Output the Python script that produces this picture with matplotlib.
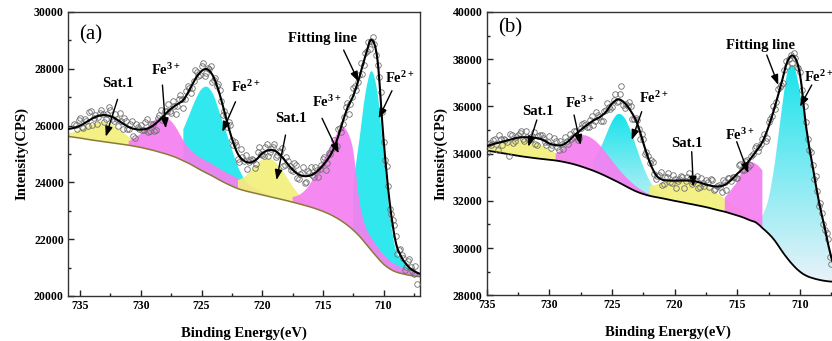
import numpy as np
import matplotlib
matplotlib.use("Agg")
import matplotlib.pyplot as plt
from matplotlib.path import Path
from matplotlib.patches import PathPatch
from matplotlib.ticker import MultipleLocator
from matplotlib.colors import to_rgb

plt.rcParams['font.family'] = ['Liberation Serif', 'DejaVu Serif']
plt.rcParams['font.weight'] = 'bold'
plt.rcParams['mathtext.fontset'] = 'custom'
plt.rcParams['mathtext.rm'] = 'Liberation Serif:bold'
plt.rcParams['mathtext.it'] = 'Liberation Serif:italic:bold'
plt.rcParams['mathtext.bf'] = 'Liberation Serif:bold'

STEP = 0.5  # eV spacing of the fitted curves

# ---------------- panel (a) ----------------
GRID_A_START = 736.0
BG_A = [25620, 25590, 25560, 25525, 25490, 25460, 25430, 25400, 25370, 25340,
        25310, 25270, 25230, 25180, 25130, 25070, 25010, 24940, 24860, 24760,
        24660, 24540, 24420, 24310, 24200, 24080, 23970, 23870, 23780, 23715,
        23660, 23610, 23560, 23510, 23460, 23410, 23360, 23305, 23250, 23190,
        23130, 23060, 22980, 22890, 22780, 22650, 22500, 22320, 22110, 21860,
        21600, 21350, 21120, 20960, 20850, 20790, 20740, 20705, 20680]
FIT_A = [25880, 25920, 26000, 26120, 26250, 26340, 26370, 26330, 26220, 26080,
         25950, 25880, 25860, 25890, 26000, 26180, 26400, 26600, 26750, 26900,
         27250, 27650, 27920, 27980, 27700, 27100, 26300, 25550, 25000, 24760,
         24700, 24800, 25020, 25130, 25120, 24960, 24700, 24450, 24280, 24220,
         24250, 24380, 24600, 24880, 25300, 25950, 26600, 27050, 27700, 28450,
         29020, 28300, 25500, 23300, 21900, 21350, 21050, 20880, 20780]
# peak heights above background (start energy, values every 0.5 eV)
SAT1_A_START, SAT1_A = 736.0, [102, 184, 298, 433, 565, 664, 700, 664, 565, 433, 298, 184, 102, 51, 23, 9]
FE2_1_A_START, FE2_1_A = 726.5, [1102, 1720, 2365, 2862, 3050, 2862, 2365, 1850, 1300, 780, 420, 200, 80, 30]
FE3_1_A_START, FE3_1_A = 731.0, [149, 288, 494, 752, 1015, 1215, 1290, 1215, 1000, 720, 520, 450,
                                 430, 420, 410, 400, 390, 380, 360, 320, 250, 170, 100, 50]
SAT2_A_START, SAT2_A = 722.0, [300, 465, 725, 1002, 1229, 1337, 1289, 1103, 838, 564, 337, 178, 84, 35, 13]
FE2_2_A_START, FE2_2_A = 712.5, [1660, 3370, 5255, 6318, 5794, 3990, 1950, 780, 480, 240, 160, 120]
FE3_2_A_START, FE3_2_A = 717.5, [180, 300, 520, 850, 1350, 1750, 2300, 2800, 3300, 3300, 2800, 1250,
                                 600, 450, 380, 330, 290, 250, 220, 190, 140, 100]
PTS_STEP = 0.25
PTS_A_START = 735.5
PTS_A = [26040, 25880, 26260, 25910, 26160, 26495, 26030, 26385, 26310, 26535,
         26110, 26410, 26550, 26165, 26230, 26440, 25890, 26155, 25890, 26145,
         25580, 25940, 26030, 25855, 26220, 25805, 26050, 25850, 26380, 26200,
         26510, 26770, 26430, 26705, 26700, 27065, 26620, 27225, 27330, 27330,
         27950, 27755, 28110, 27740, 28040, 28090, 27600, 27390, 27260, 26370,
         26390, 26135, 25480, 25405, 24820, 25160, 24760, 24480, 24800, 24790,
         24660, 25230, 24960, 25245, 24930, 25185, 25350, 24950, 25080, 24560,
         24890, 24595, 24410, 24625, 24120, 24330, 23990, 24385, 24550, 24205,
         24430, 24470, 24810, 24440, 25020, 25180, 25240, 25865, 25760, 26305,
         26780, 26745, 27320, 27245, 27770, 27825, 28570, 28935, 28980, 28860,
         28130, 27190, 25410, 24560, 23080, 22660, 22130, 21615, 21460, 20920,
         21250, 21005, 20760, 20420]
PTS_A2_START = 735.375
PTS_A2 = [26030, 26190, 25960, 26220, 25970, 26500, 26270, 26070, 26450, 26400,
          26220, 26660, 26240, 26420, 25985, 26175, 26280, 25890, 26050, 25630,
          26065, 25885, 25830, 26140, 25760, 26050, 25815, 26285, 26535, 26235,
          26500, 26530, 26850, 26410, 26930, 26950, 26930, 27400, 27160, 27580,
          27900, 27770, 28205, 27835, 27980, 27520, 27670, 27450, 26860, 26510,
          25940, 26030, 25320, 25300, 24720, 24880, 24975, 24705, 24835, 24495,
          25055, 25005, 24930, 25350, 25080, 25250, 24880, 25090, 25205, 24615,
          24760, 24430, 24670, 24170, 24305, 24545, 24010, 24330, 24250, 24530,
          24175, 24605, 24890, 24700, 24995, 25485, 25270, 25930, 26050, 26670,
          26410, 27010, 27380, 27520, 28220, 28120, 28640, 28700, 29135, 28485,
          27710, 26470, 24780, 23880, 22900, 22490, 21480, 21640, 21355, 21005,
          21310, 20890, 21045]

# ---------------- panel (b) ----------------
GRID_B_START = 735.0
BG_B = [34130, 34090, 34045, 34000, 33955, 33910, 33870, 33835, 33800, 33770,
        33740, 33710, 33665, 33610, 33545, 33465, 33375, 33280, 33170, 33050,
        32920, 32790, 32650, 32510, 32385, 32290, 32215, 32160, 32110, 32055,
        32000, 31950, 31895, 31845, 31790, 31735, 31670, 31600, 31540, 31460,
        31380, 31290, 31180, 31080, 30850, 30610, 30310, 29920, 29560, 29250,
        29000, 28830, 28730, 28660, 28610, 28580, 28565, 28555]
FIT_B = [34320, 34400, 34470, 34540, 34610, 34680, 34695, 34690, 34660, 34580,
         34430, 34360, 34360, 34520, 34780, 35000, 35210, 35400, 35540, 35760,
         36120, 36300, 36150, 35800, 35300, 34450, 33650, 33100, 32900, 32860,
         32860, 32860, 32860, 32840, 32780, 32690, 32630, 32610, 32680, 32880,
         33150, 33400, 33750, 34100, 34500, 35150, 36000, 36950, 37900, 38130,
         37350, 35100, 33500, 32000, 30800, 29600, 28950, 28700]
SAT1_B_START, SAT1_B = 735.0, [144, 229, 336, 457, 574, 667, 715, 710, 651, 552, 433, 313, 210, 130, 74, 39]
FE2_1_B_START, FE2_1_B = 726.5, [467, 980, 1700, 2441, 2896, 2865, 2444, 1805, 1154, 639, 306, 127, 45]
FE3_1_B_START, FE3_1_B = 729.5, [290, 520, 810, 1110, 1320, 1380, 1330, 1200, 1000, 780, 580, 420, 300, 200, 120, 60]
SAT2_B_START, SAT2_B = 722.0, [408, 524, 647, 766, 870, 949, 993, 997, 960, 888, 788, 671, 548, 430,
                               324, 234, 162, 108, 69]
FE2_2_B_START, FE2_2_B = 714.0, [33, 149, 532, 1498, 3316, 5768, 7890, 8479, 7627, 6100, 4600, 3100,
                                 1900, 900, 380, 150]
FE3_2_B_START, FE3_2_B = 716.0, [600, 1000, 1450, 2100, 2450, 2480, 2450]
PTS_B_START = 735.0
PTS_B = [34020, 34430, 34570, 34415, 34800, 34365, 34590, 33880, 34810, 34555,
         34790, 34960, 34525, 34722, 34640, 34915, 34380, 34770, 34660, 34385,
         34730, 34365, 34550, 34150, 34420, 34690, 34420, 34640, 34940, 34560,
         35090, 35315, 35140, 35435, 35220, 35750, 35540, 35400, 35860, 35980,
         35980, 36530, 36240, 36880, 35950, 36035, 36030, 35460, 35420, 34605,
         34640, 34070, 33610, 33635, 32940, 33080, 32670, 33030, 33160, 32750,
         32910, 32840, 33070, 32560, 33000, 32940, 32780, 33050, 32590, 32765,
         32870, 32580, 32900, 32490, 32680, 32395, 32800, 32980, 32840, 33025,
         32980, 33565, 33310, 33735, 33530, 33985, 34330, 34290, 34610, 34545,
         35350, 35615, 35880, 36725, 36900, 37555, 37700, 38170, 38250, 37650,
         37470, 36320, 35360, 34150, 33540, 33060, 31780, 31490, 30770, 30380, 29340]
PTS_B2_START = 734.875
PTS_B2 = [34390, 34360, 34630, 34150, 34630, 34610, 34500, 34830, 34440, 34690,
          34865, 34610, 34965, 34560, 34750, 34420, 34760, 34800, 34500, 34480,
          34240, 34670, 34270, 34520, 34180, 34540, 34815, 34705, 34945, 34665,
          35250, 35200, 35140, 35600, 35385, 35635, 35395, 35795, 36160, 35880,
          36285, 36175, 36520, 36040, 36100, 36200, 35455, 35515, 35060, 34840,
          33990, 33910, 33730, 33130, 33060, 33240, 32700, 33010, 32800, 33090,
          32560, 32930, 33030, 32840, 33185, 32705, 32875, 32555, 32960, 32620,
          32785, 32915, 32455, 32645, 32580, 32900, 32450, 32980, 33030, 32960,
          33510, 33310, 33680, 33450, 33900, 34260, 34100, 34390, 34820, 34660,
          35450, 36000, 36170, 36840, 37010, 37940, 37990, 37855, 38065, 37615,
          36685, 36020, 34640, 34070, 32925, 32435, 31930, 31010, 30620, 29630]

YELLOW, MAGENTA, CYAN = '#f2ef7c', '#f67ff0', '#1fe6ee'


def cr_path(xs, ys):
    """Smooth (Catmull-Rom as cubic Bezier) path passing through the data points."""
    pts = np.column_stack([xs, ys]).astype(float)
    n = len(pts)
    verts, codes = [pts[0]], [Path.MOVETO]
    for i in range(n - 1):
        p0 = pts[i - 1] if i > 0 else pts[i]
        p1, p2 = pts[i], pts[i + 1]
        p3 = pts[i + 2] if i + 2 < n else pts[i + 1]
        verts += [p1 + (p2 - p0) / 6.0, p2 - (p3 - p1) / 6.0, p2]
        codes += [Path.CURVE4] * 3
    return verts, codes


def draw_component(ax, grid_start, bg, start, vals, color, gradient=None, z=1):
    grid = grid_start - STEP * np.arange(len(bg))
    i0 = int(round((grid_start - start) / STEP))
    x = grid[i0:i0 + len(vals)]
    lo = np.asarray(bg[i0:i0 + len(vals)], float)
    hi = lo + np.asarray(vals, float)
    v1, c1 = cr_path(x, hi)
    v2, c2 = cr_path(x[::-1], lo[::-1])
    verts = v1 + v2 + [v1[0]]
    codes = c1 + [Path.LINETO] + c2[1:] + [Path.CLOSEPOLY]
    path = Path(verts, codes)
    if gradient is None:
        ax.add_patch(PathPatch(path, facecolor=color, edgecolor='none', alpha=0.92, zorder=z))
    else:
        patch = PathPatch(path, facecolor='none', edgecolor='none', zorder=z)
        ax.add_patch(patch)
        top, bot = np.array(to_rgb(gradient[0])), np.array(to_rgb(gradient[1]))
        t = np.linspace(0, 1, 256)[:, None, None]
        img = top * (1 - t) + bot * t
        im = ax.imshow(img, extent=(x.min(), x.max(), lo.min(), hi.max()), origin='upper',
                       aspect='auto', zorder=z, interpolation='bilinear')
        im.set_clip_path(patch)


def smooth_line(ax, grid_start, ys, color, lw, z):
    x = grid_start - STEP * np.arange(len(ys))
    v, c = cr_path(x, np.asarray(ys, float))
    ax.add_patch(PathPatch(Path(v, c), fill=False, edgecolor=color, lw=lw, zorder=z,
                           capstyle='round', joinstyle='round'))


def scatter_points(ax, start, vals):
    x = start - PTS_STEP * np.arange(len(vals))
    ax.plot(x, vals, 'o', mfc='none', mec='#6e6e6e', ms=4.0, mew=0.6, zorder=3)


def setup(ax, xlim, ylim, yticks):
    ax.set_xlim(*xlim)
    ax.set_ylim(*ylim)
    ax.set_xticks([735, 730, 725, 720, 715, 710])
    ax.xaxis.set_minor_locator(MultipleLocator(2.5))
    ax.set_yticks(yticks)
    ax.yaxis.set_minor_locator(MultipleLocator(1000))
    ax.tick_params(which='both', direction='in', top=False, right=False, width=1.0, color='#222222')
    ax.tick_params(which='major', length=4.5, labelsize=8.5, pad=3)
    ax.tick_params(which='minor', length=2.5)
    for s in ax.spines.values():
        s.set_linewidth(1.0)
        s.set_color('#333333')
    ax.set_xlabel('Binding Energy(eV)', fontsize=10.5, fontweight='bold', labelpad=10)
    ax.set_ylabel('Intensity(CPS)', fontsize=10.5, fontweight='bold', labelpad=4)


def annotate(ax, items):
    for txt, (tx, ty), tail, tip in items:
        ax.text(tx, ty, txt, ha='center', va='center', fontsize=10.5, fontweight='bold', zorder=6)
        ax.annotate('', xy=tip, xytext=tail, zorder=6,
                    arrowprops=dict(arrowstyle='-|>,head_length=0.6,head_width=0.22', color='black',
                                    lw=1.0, shrinkA=0, shrinkB=0, mutation_scale=10))


fig = plt.figure(figsize=(8.32, 3.41), dpi=100)
axA = fig.add_axes([68 / 832, 45 / 341, 352 / 832, 284 / 341])
axB = fig.add_axes([486.7 / 832, 45.7 / 341, 363.4 / 832, 283.3 / 341])

# ---- (a)
draw_component(axA, GRID_A_START, BG_A, SAT1_A_START, SAT1_A, YELLOW)
draw_component(axA, GRID_A_START, BG_A, FE2_1_A_START, FE2_1_A, CYAN)
draw_component(axA, GRID_A_START, BG_A, FE3_1_A_START, FE3_1_A, MAGENTA)
draw_component(axA, GRID_A_START, BG_A, SAT2_A_START, SAT2_A, YELLOW)
draw_component(axA, GRID_A_START, BG_A, FE2_2_A_START, FE2_2_A, CYAN)
draw_component(axA, GRID_A_START, BG_A, FE3_2_A_START, FE3_2_A, MAGENTA)
smooth_line(axA, GRID_A_START, BG_A, '#8a7a38', 1.1, 2)
scatter_points(axA, PTS_A_START, PTS_A)
scatter_points(axA, PTS_A2_START, PTS_A2)
smooth_line(axA, GRID_A_START, FIT_A, 'black', 1.5, 4)
setup(axA, (736, 707), (20000, 30000), range(20000, 30001, 2000))
axA.text(734.12, 29190, '(a)', fontsize=15, fontweight='normal', ha='center', va='center')
annotate(axA, [
    ('Sat.1', (731.92, 27487), (731.92, 26924), (732.89, 25610)),
    ('Fe$^{3+}$', (727.95, 27955), (728.22, 27427), (727.95, 25903)),
    ('Fe$^{2+}$', (721.37, 27346), (722.2, 26839), (723.29, 25783)),
    ('Sat.1', (717.67, 26255), (718.08, 25667), (718.82, 24083)),
    ('Fe$^{3+}$', (714.65, 26839), (715.07, 26255), (713.7, 25023)),
    ('Fitting line', (715.07, 29070), (713.29, 28659), (712.06, 27543)),
    ('Fe$^{2+}$', (708.63, 27663), (709.31, 27227), (710.41, 26255)),
])

# ---- (b)
draw_component(axB, GRID_B_START, BG_B, SAT1_B_START, SAT1_B, YELLOW)
draw_component(axB, GRID_B_START, BG_B, FE2_1_B_START, FE2_1_B, CYAN, gradient=('#19e3ec', '#b9f0f4'))
draw_component(axB, GRID_B_START, BG_B, FE3_1_B_START, FE3_1_B, MAGENTA)
draw_component(axB, GRID_B_START, BG_B, SAT2_B_START, SAT2_B, YELLOW)
draw_component(axB, GRID_B_START, BG_B, FE2_2_B_START, FE2_2_B, CYAN, gradient=('#19e3ec', '#eaf2f9'))
draw_component(axB, GRID_B_START, BG_B, FE3_2_B_START, FE3_2_B, MAGENTA)
smooth_line(axB, GRID_B_START, BG_B, 'black', 1.3, 2)
scatter_points(axB, PTS_B_START, PTS_B)
scatter_points(axB, PTS_B2_START, PTS_B2)
smooth_line(axB, GRID_B_START, FIT_B, 'black', 1.5, 4)
setup(axB, (735, 706), (28000, 40000), range(28000, 40001, 2000))
axB.text(733.14, 39309, '(b)', fontsize=15, fontweight='normal', ha='center', va='center')
annotate(axB, [
    ('Sat.1', (730.88, 35806), (731.0, 35425), (731.68, 34294)),
    ('Fe$^{3+}$', (727.55, 36132), (728.03, 35637), (727.5, 34366)),
    ('Fe$^{2+}$', (721.7, 36344), (722.63, 35778), (723.43, 34578)),
    ('Sat.1', (719.04, 34409), (718.64, 34083), (718.51, 32600)),
    ('Fe$^{3+}$', (714.78, 34790), (715.05, 34506), (714.12, 33167)),
    ('Fitting line', (713.19, 38573), (712.65, 38178), (711.73, 36908)),
    ('Fe$^{2+}$', (708.53, 37259), (709.06, 36908), (710.0, 35989)),
])

fig.savefig('out.png', dpi=100)
